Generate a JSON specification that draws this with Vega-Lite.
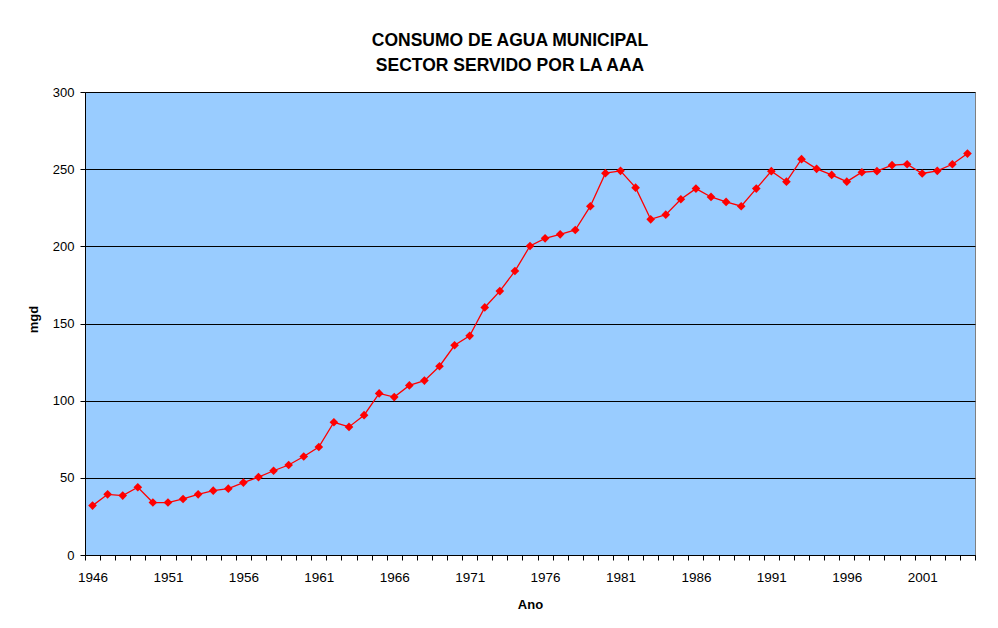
{
  "$schema": "https://vega.github.io/schema/vega-lite/v6.json",
  "width": 890,
  "height": 463,
  "autosize": "none",
  "padding": {"left": 85, "top": 92, "right": 23, "bottom": 73},
  "background": "white",
  "title": {
    "text": ["CONSUMO DE AGUA MUNICIPAL", "SECTOR SERVIDO POR LA AAA"],
    "font": "Liberation Sans",
    "fontSize": 17.5,
    "fontWeight": "bold",
    "color": "black",
    "anchor": "middle",
    "frame": "group",
    "dx": -20,
    "lineHeight": 25,
    "offset": 12
  },
  "data": {
    "values": [
      {"year": 1946, "mgd": 32},
      {"year": 1947, "mgd": 39.3},
      {"year": 1948, "mgd": 38.5},
      {"year": 1949, "mgd": 43.9},
      {"year": 1950, "mgd": 34},
      {"year": 1951, "mgd": 34},
      {"year": 1952, "mgd": 36.3},
      {"year": 1953, "mgd": 39.3},
      {"year": 1954, "mgd": 41.7},
      {"year": 1955, "mgd": 43},
      {"year": 1956, "mgd": 46.9},
      {"year": 1957, "mgd": 50.5},
      {"year": 1958, "mgd": 54.6},
      {"year": 1959, "mgd": 58.3},
      {"year": 1960, "mgd": 63.8},
      {"year": 1961, "mgd": 70},
      {"year": 1962, "mgd": 86},
      {"year": 1963, "mgd": 83},
      {"year": 1964, "mgd": 90.6},
      {"year": 1965, "mgd": 104.7},
      {"year": 1966, "mgd": 102.3},
      {"year": 1967, "mgd": 109.9},
      {"year": 1968, "mgd": 113},
      {"year": 1969, "mgd": 122.3},
      {"year": 1970, "mgd": 135.9},
      {"year": 1971, "mgd": 142},
      {"year": 1972, "mgd": 160.4},
      {"year": 1973, "mgd": 171},
      {"year": 1974, "mgd": 184},
      {"year": 1975, "mgd": 200.2},
      {"year": 1976, "mgd": 205.2},
      {"year": 1977, "mgd": 207.8},
      {"year": 1978, "mgd": 210.6},
      {"year": 1979, "mgd": 226},
      {"year": 1980, "mgd": 247.4},
      {"year": 1981, "mgd": 248.9},
      {"year": 1982, "mgd": 238},
      {"year": 1983, "mgd": 217.5},
      {"year": 1984, "mgd": 220.5},
      {"year": 1985, "mgd": 230.5},
      {"year": 1986, "mgd": 237.4},
      {"year": 1987, "mgd": 232},
      {"year": 1988, "mgd": 228.8},
      {"year": 1989, "mgd": 226},
      {"year": 1990, "mgd": 237.4},
      {"year": 1991, "mgd": 248.7},
      {"year": 1992, "mgd": 241.9},
      {"year": 1993, "mgd": 256.5},
      {"year": 1994, "mgd": 250.2},
      {"year": 1995, "mgd": 246.3},
      {"year": 1996, "mgd": 241.9},
      {"year": 1997, "mgd": 248},
      {"year": 1998, "mgd": 248.7},
      {"year": 1999, "mgd": 252.6},
      {"year": 2000, "mgd": 253.2},
      {"year": 2001, "mgd": 247.2},
      {"year": 2002, "mgd": 248.9},
      {"year": 2003, "mgd": 253.2},
      {"year": 2004, "mgd": 260.1}
    ]
  },
  "mark": {
    "type": "line",
    "color": "#FF0000",
    "strokeWidth": 1.3,
    "point": {"shape": "diamond", "filled": true, "size": 75, "color": "#FF0000", "opacity": 1}
  },
  "encoding": {
    "x": {
      "field": "year",
      "type": "ordinal",
      "scale": {"type": "band", "paddingInner": 0, "paddingOuter": 0},
      "axis": {
        "title": "Ano",
        "titleFont": "Liberation Sans",
        "titleFontSize": 13,
        "titleFontWeight": "bold",
        "titleColor": "black",
        "titleY": 49,
        "titleBaseline": "middle",
        "labelAngle": 0,
        "labelFont": "Liberation Sans",
        "labelFontSize": 13.5,
        "labelColor": "black",
        "labelPadding": 10,
        "labelExpr": "(datum.value - 1946) % 5 == 0 ? datum.label : ''",
        "tickBand": "extent",
        "tickSize": 5,
        "tickColor": "black",
        "domainColor": "black",
        "grid": false
      }
    },
    "y": {
      "field": "mgd",
      "type": "quantitative",
      "scale": {"domain": [0, 300], "nice": false},
      "axis": {
        "title": "mgd",
        "titleFont": "Liberation Sans",
        "titleFontSize": 13,
        "titleFontWeight": "bold",
        "titleColor": "black",
        "titleX": -52,
        "titleY": 227,
        "titleBaseline": "middle",
        "titleAngle": -90,
        "values": [0, 50, 100, 150, 200, 250, 300],
        "labelFont": "Liberation Sans",
        "labelFontSize": 13,
        "labelColor": "black",
        "labelPadding": 6,
        "tickSize": 5,
        "tickColor": "black",
        "domainColor": "black",
        "grid": true,
        "gridColor": "black",
        "gridOpacity": 1,
        "gridWidth": 1
      }
    }
  },
  "config": {
    "view": {"fill": "#99CCFF", "stroke": "#808080", "strokeWidth": 1}
  }
}
